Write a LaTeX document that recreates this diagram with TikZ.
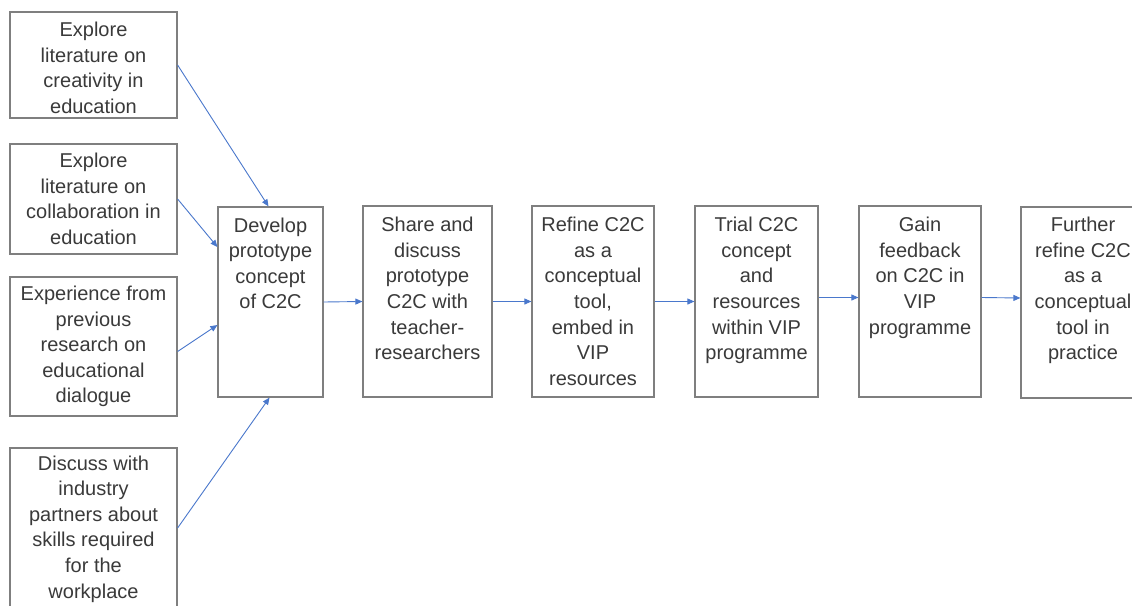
\documentclass[tikz,border=0pt]{standalone}
\usepackage{fontspec}
\setmainfont{Liberation Sans}
\usetikzlibrary{arrows.meta}
\definecolor{txtc}{HTML}{3A3A3A}
\definecolor{bordc}{HTML}{7F7F7F}
\definecolor{arrc}{HTML}{4A78CC}
\tikzset{
  every node/.style={font=\fontsize{20pt}{25.6pt}\selectfont, text=txtc},
  leftbox/.style={draw=bordc, line width=1.2pt, inner sep=0pt, align=center, minimum width=167pt},
  mainbox/.style={draw=bordc, line width=1.2pt, inner sep=0pt},
  boxtext/.style={inner sep=0pt, align=center, anchor=north},
  arr/.style={draw=arrc, line width=0.9pt, -{Triangle[length=7pt,width=6pt]}}
}
\begin{document}
\begin{tikzpicture}[x=1pt,y=-1pt]
\clip (0,0) rectangle (1132,605);
\fill[white] (0,0) rectangle (1132,605);
% left input boxes
\node[leftbox, minimum height=106pt] (b1) at (93.5,65) {};
\node[boxtext, anchor=center] (b1t) at (93.5,68) {Explore\\literature on\\creativity in\\education};
\node[leftbox, minimum height=110pt] (b2) at (93.5,199) {Explore\\literature on\\collaboration in\\education};
\node[leftbox, minimum height=139pt] (b3) at (93.5,346.5) {Experience from\\previous\\research on\\educational\\dialogue};
\node[leftbox, minimum height=162pt] (b4) at (93.5,529) {Discuss with\\industry\\partners about\\skills required\\for the\\workplace};
% main process boxes
\node[mainbox, minimum width=105pt, minimum height=190pt] (dev) at (270.5,302) {};
\node[mainbox, minimum width=129pt, minimum height=191pt] (share) at (427.5,301.5) {};
\node[mainbox, minimum width=122pt, minimum height=191pt] (refine) at (593,301.5) {};
\node[mainbox, minimum width=123pt, minimum height=191pt] (trial) at (756.5,301.5) {};
\node[mainbox, minimum width=122pt, minimum height=191pt] (gain) at (920,301.5) {};
\node[mainbox, minimum width=124pt, minimum height=191pt] (further) at (1083,302.5) {};
% texts of main boxes
\node[boxtext] (devt) at (270.5,217.5) {Develop\\prototype\\concept\\of C2C};
\node[boxtext] (sharet) at (427.5,217) {Share and\\discuss\\prototype\\C2C with\\teacher-\\researchers};
\node[boxtext] (refinet) at (593,217) {Refine C2C\\as a\\conceptual\\tool,\\embed in\\VIP\\resources};
\node[boxtext] (trialt) at (756.5,217) {Trial C2C\\concept\\and\\resources\\within VIP\\programme};
\node[boxtext] (gaint) at (920,217) {Gain\\feedback\\on C2C in\\VIP\\programme};
\node[boxtext] (furthert) at (1083,217) {Further\\refine C2C\\as a\\conceptual\\tool in\\practice};
% connectors from inputs
\draw[arr] (b1.east) -- ([xshift=-2pt]dev.north);
\draw[arr] (b2.east) -- ([yshift=55pt]dev.west);
\draw[arr] ([yshift=-5pt]b3.east) -- ([yshift=-23pt]dev.west);
\draw[arr] ([yshift=1pt]b4.east) -- ([xshift=-1pt]dev.south);
% process connectors
\draw[arr] (dev.east) -- (share.west);
\draw[arr] (share.east) -- (refine.west);
\draw[arr] (refine.east) -- (trial.west);
\draw[arr] ([yshift=4pt]trial.east) -- ([yshift=4pt]gain.west);
\draw[arr] ([yshift=4pt]gain.east) -- ([yshift=4.5pt]further.west);
\end{tikzpicture}
\end{document}
